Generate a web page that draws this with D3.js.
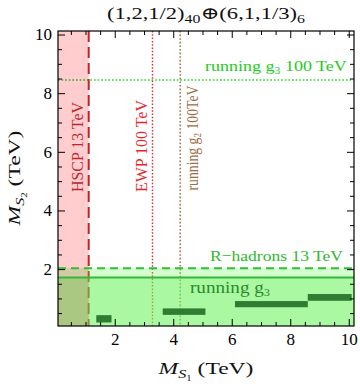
<!DOCTYPE html>
<html><head><meta charset="utf-8">
<script src="https://cdn.jsdelivr.net/npm/d3@7"></script>
<style>
html,body{margin:0;padding:0;background:#fff;}
text{font-family:"Liberation Serif","DejaVu Serif",serif;}
</style></head>
<body>
<svg id="chart" width="360" height="387"></svg>
<script>
// ---- data ----
const xDomain = [0.06, 10.18];
const yDomain = [0.06, 10.12];
const majorTicks = [2, 4, 6, 8, 10];
const minorTicks = d3.range(0.5, 10.01, 0.5).filter(v => v % 2 !== 0);
const hscpLimit = 1.11;      // HSCP 13 TeV (x)
const ewpLimit = 3.29;       // EWP 100 TeV (x)
const g2Limit = 4.24;        // running g2 100 TeV (x)
const g3Limit100 = 8.45;     // running g3 100 TeV (y)
const rhadLimit = 2.03;      // R-hadrons 13 TeV (y)
const g3Limit = 1.71;        // running g3 (y)
const barX0 = [1.37, 3.64, 6.11, 8.60];
const barX1 = [1.89, 5.10, 8.60, 10.10];
const barY0 = [0.18, 0.44, 0.70, 0.92];
const barY1 = [0.43, 0.66, 0.91, 1.15];

const svg = d3.select("#chart");
const L = 58, R = 354, T = 31, B = 326;
const x = d3.scaleLinear().domain(xDomain).range([L, R]);
const y = d3.scaleLinear().domain(yDomain).range([B, T]);

const defs = svg.append("defs");
defs.append("clipPath").attr("id", "clip").append("rect")
  .attr("x", L).attr("y", T).attr("width", R - L).attr("height", B - T);
const g = svg.append("g").attr("clip-path", "url(#clip)");

// limit lines (under the green fills)
g.append("line").attr("x1", x(hscpLimit)).attr("x2", x(hscpLimit)).attr("y1", y(yDomain[1])).attr("y2", y(yDomain[0]))
  .attr("stroke", "#c4262e").attr("stroke-width", 2).attr("stroke-dasharray", "11,5");
g.append("line").attr("x1", x(ewpLimit)).attr("x2", x(ewpLimit)).attr("y1", y(yDomain[1])).attr("y2", y(yDomain[0]))
  .attr("stroke", "#e8242a").attr("stroke-width", 1.4).attr("stroke-dasharray", "1.5,1.8");
g.append("line").attr("x1", x(g2Limit)).attr("x2", x(g2Limit)).attr("y1", y(yDomain[1])).attr("y2", y(yDomain[0]))
  .attr("stroke", "#a0764a").attr("stroke-width", 1.6).attr("stroke-dasharray", "1.6,2");
g.append("line").attr("x1", x(xDomain[0])).attr("x2", x(xDomain[1])).attr("y1", y(g3Limit100)).attr("y2", y(g3Limit100))
  .attr("stroke", "#22dd22").attr("stroke-width", 1.6).attr("stroke-dasharray", "1.6,2");

// green excluded regions
g.append("rect").attr("x", x(xDomain[0])).attr("y", y(rhadLimit))
  .attr("width", x(xDomain[1]) - x(xDomain[0])).attr("height", y(yDomain[0]) - y(rhadLimit))
  .attr("fill", "rgb(110,245,95)").attr("fill-opacity", 0.3);
g.append("rect").attr("x", x(xDomain[0])).attr("y", y(g3Limit))
  .attr("width", x(xDomain[1]) - x(xDomain[0])).attr("height", y(yDomain[0]) - y(g3Limit))
  .attr("fill", "rgb(110,245,95)").attr("fill-opacity", 0.4);

// HSCP pink region
g.append("rect").attr("x", x(xDomain[0])).attr("y", y(yDomain[1]))
  .attr("width", x(hscpLimit) - x(xDomain[0])).attr("height", y(yDomain[0]) - y(yDomain[1]))
  .attr("fill", "rgb(255,205,205)").style("mix-blend-mode", "multiply");

// horizontal green lines
g.append("line").attr("x1", x(xDomain[0])).attr("x2", x(xDomain[1])).attr("y1", y(rhadLimit)).attr("y2", y(rhadLimit))
  .attr("stroke", "#2fc02f").attr("stroke-width", 1.8).attr("stroke-dasharray", "8,5");
g.append("line").attr("x1", x(xDomain[0])).attr("x2", x(xDomain[1])).attr("y1", y(g3Limit)).attr("y2", y(g3Limit))
  .attr("stroke", "#36b836").attr("stroke-width", 2);

// dark bars
g.selectAll("rect.bar").data(barX0).enter().append("rect").attr("class", "bar")
  .attr("x", (d, i) => x(barX0[i]))
  .attr("y", (d, i) => y(barY1[i]))
  .attr("width", (d, i) => x(barX1[i]) - x(barX0[i]))
  .attr("height", (d, i) => y(barY0[i]) - y(barY1[i]))
  .attr("fill", "#2e7d32");

// axes (ticks inward, on all sides)
function styleAxis(sel) {
  sel.select(".domain").remove();
  sel.selectAll("line").attr("stroke", "#000").attr("stroke-width", 1);
  sel.selectAll("text").attr("fill", "#000").style("font-size", "17px")
    .style("font-family", '"Liberation Serif","DejaVu Serif",serif');
}
const fmt = d3.format("d");
svg.append("g").attr("transform", `translate(0,${B})`)
  .call(d3.axisBottom(x).tickValues(majorTicks).tickSize(-7).tickPadding(7).tickFormat(fmt)).call(styleAxis);
svg.append("g").attr("transform", `translate(0,${B})`)
  .call(d3.axisBottom(x).tickValues(minorTicks).tickSize(-4).tickFormat("")).call(styleAxis);
svg.append("g").attr("transform", `translate(0,${T})`)
  .call(d3.axisTop(x).tickValues(majorTicks).tickSize(-7).tickFormat("")).call(styleAxis);
svg.append("g").attr("transform", `translate(0,${T})`)
  .call(d3.axisTop(x).tickValues(minorTicks).tickSize(-4).tickFormat("")).call(styleAxis);
svg.append("g").attr("transform", `translate(${L},0)`)
  .call(d3.axisLeft(y).tickValues(majorTicks).tickSize(-7).tickPadding(6).tickFormat(fmt)).call(styleAxis);
svg.append("g").attr("transform", `translate(${L},0)`)
  .call(d3.axisLeft(y).tickValues(minorTicks).tickSize(-4).tickFormat("")).call(styleAxis);
svg.append("g").attr("transform", `translate(${R},0)`)
  .call(d3.axisRight(y).tickValues(majorTicks).tickSize(-7).tickFormat("")).call(styleAxis);
svg.append("g").attr("transform", `translate(${R},0)`)
  .call(d3.axisRight(y).tickValues(minorTicks).tickSize(-4).tickFormat("")).call(styleAxis);

svg.append("rect").attr("x", L).attr("y", T).attr("width", R - L).attr("height", B - T)
  .attr("fill", "none").attr("stroke", "#000").attr("stroke-width", 1.2);

// ---- text helper: label placed at (px,py), rotated, stretched along its direction to target width ----
function label(px, py, rot, anchor, size, color, parts, width) {
  const grp = svg.append("g");
  const t = grp.append("text").attr("x", 0).attr("y", 0).attr("font-size", size).attr("fill", color);
  parts.forEach(p => {
    const ts = t.append("tspan").text(p.t);
    if (p.it) ts.attr("font-style", "italic");
    if (p.fs) ts.attr("font-size", p.fs);
    if (p.dy) ts.attr("dy", p.dy);
  });
  const w = t.node().getComputedTextLength();
  const k = width ? width / w : 1;
  const off = anchor === "middle" ? -w / 2 : 0;
  t.attr("x", off);
  t.selectAll("tspan").filter((d, i) => i === 0).attr("x", off);
  grp.attr("transform", `translate(${px},${py}) rotate(${rot}) scale(${k},1)`);
  return t;
}

// title
label(206, 19, 0, "middle", 17, "#111",
  [{t: "(1,2,1/2)"}, {t: "40", fs: 12, dy: 4}, {t: "\u2295(6,1,1/3)", dy: -4}, {t: "6", fs: 12, dy: 4}], 198);

// axis labels
label(206, 374, 0, "middle", 17.5, "#111",
  [{t: "M", it: true}, {t: "S", it: true, fs: 12, dy: 4}, {t: "1", fs: 8, dy: 2.5}, {t: " (TeV)", dy: -6.5}], 95);
label(20, 178, -90, "middle", 17.5, "#111",
  [{t: "M", it: true}, {t: "S", it: true, fs: 12, dy: 4}, {t: "2", fs: 8, dy: 2.5}, {t: " (TeV)", dy: -6.5}], 95);

// region labels
label(205, 71, 0, "start", 15.5, "#22cc22",
  [{t: "running  g"}, {t: "3", fs: 10, dy: 3}, {t: " 100 TeV", dy: -3}], 142);
label(210, 261, 0, "start", 15.5, "#2cba2c", [{t: "R\u2212hadrons 13 TeV"}], 133);
label(190, 293, 0, "start", 17, "#2a8a2a", [{t: "running  g"}, {t: "3", fs: 11, dy: 3}], 80);
label(83, 147, -90, "middle", 16.5, "#b8282e", [{t: "HSCP 13 TeV"}], 90);
label(147, 146, -90, "middle", 16.5, "#e8242a", [{t: "EWP 100 TeV"}], 92);
label(198, 138, -90, "middle", 16.5, "#9a7048",
  [{t: "running g"}, {t: "2", fs: 11, dy: 3}, {t: " 100TeV", dy: -3}], 105);
</script>
</body></html>
